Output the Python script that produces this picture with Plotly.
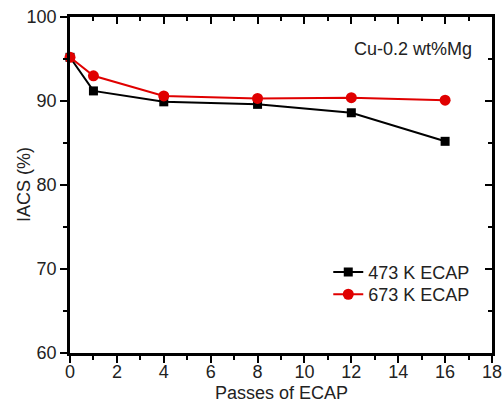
import plotly.graph_objects as go

# Electrical conductivity of Cu-0.2 wt%Mg after ECAP passes
passes = [0, 1, 4, 8, 12, 16]
iacs_473 = [95.2, 91.2, 89.9, 89.6, 88.6, 85.2]
iacs_673 = [95.2, 93.0, 90.6, 90.3, 90.4, 90.1]

FONT = "Liberation Sans, Arial, sans-serif"
TEXT = "#222222"
X_RANGE = [0, 18]
Y_RANGE = [60, 100]

fig = go.Figure()
fig.add_trace(go.Scatter(
    x=passes, y=iacs_473, name="473 K ECAP", mode="lines+markers",
    line=dict(color="#000000", width=2),
    marker=dict(symbol="square", size=9, color="#000000"),
    cliponaxis=False, legend="legend",
))
fig.add_trace(go.Scatter(
    x=passes, y=iacs_673, name="673 K ECAP", mode="lines+markers",
    line=dict(color="#e00000", width=2),
    marker=dict(symbol="circle", size=11, color="#e00000"),
    cliponaxis=False, legend="legend2",
))
# invisible trace to bind the mirrored top/right axes
fig.add_trace(go.Scatter(x=[None], y=[None], xaxis="x2", yaxis="y2",
                         showlegend=False, hoverinfo="skip"))

axis_common = dict(showgrid=False, zeroline=False, showline=True,
                   automargin=False,
                   linecolor="#000000", linewidth=2.5, tickcolor="#000000",
                   tickwidth=2, ticklen=7,
                   tickfont=dict(family=FONT, size=18, color=TEXT))
minor_out = dict(ticks="outside", ticklen=4, tickcolor="#000000", tickwidth=2)
minor_in = dict(ticks="inside", ticklen=4, tickcolor="#000000", tickwidth=2)

legend_common = dict(xanchor="left", yanchor="top",
                     bgcolor="rgba(0,0,0,0)", borderwidth=0,
                     font=dict(family=FONT, size=18, color=TEXT),
                     itemwidth=30)

fig.update_layout(
    width=503, height=403,
    margin=dict(l=70, r=11, t=17, b=50),
    paper_bgcolor="white", plot_bgcolor="white",
    font=dict(family=FONT, size=18, color=TEXT),
    xaxis=dict(range=X_RANGE, dtick=2, ticks="outside", ticklabelstandoff=-6,
               minor=dict(dtick=1, **minor_out), **axis_common),
    yaxis=dict(range=Y_RANGE, dtick=10, ticks="outside",
               minor=dict(dtick=5, **minor_out), **axis_common),
    xaxis2=dict(range=X_RANGE, dtick=2, ticks="inside", overlaying="x",
                side="top", showticklabels=False, anchor="y2",
                minor=dict(dtick=1, **minor_in), **axis_common),
    yaxis2=dict(range=Y_RANGE, dtick=10, ticks="inside", overlaying="y",
                side="right", showticklabels=False, anchor="x2",
                minor=dict(dtick=5, **minor_in), **axis_common),
    legend=dict(x=0.612, y=0.295, **legend_common),
    legend2=dict(x=0.612, y=0.229, **legend_common),
    annotations=[
        dict(text="Cu-0.2 wt%Mg", x=0.958, y=0.905,
             xref="paper", yref="paper", xanchor="right", yanchor="middle",
             showarrow=False, font=dict(family=FONT, size=18, color=TEXT)),
        dict(text="IACS (%)", x=-0.109, y=0.5, textangle=-90,
             xref="paper", yref="paper", xanchor="center", yanchor="middle",
             showarrow=False, font=dict(family=FONT, size=18, color=TEXT)),
        dict(text="Passes of ECAP", x=0.5, y=-0.118,
             xref="paper", yref="paper", xanchor="center", yanchor="middle",
             showarrow=False, font=dict(family=FONT, size=18, color=TEXT)),
    ],
    showlegend=True,
)

fig.write_html("out.html")
